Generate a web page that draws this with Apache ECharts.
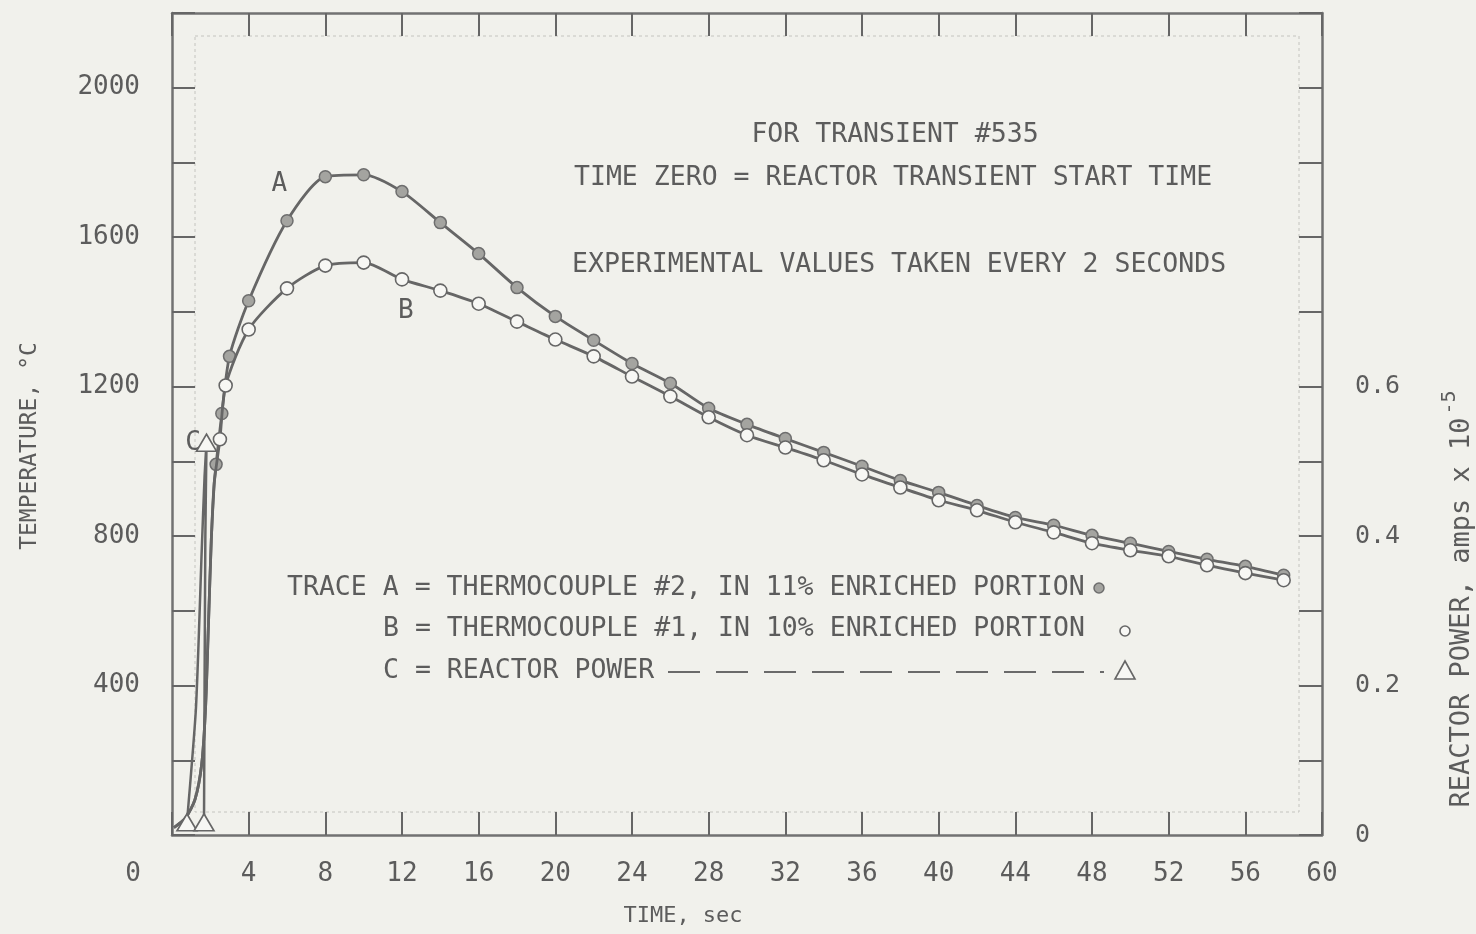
<!DOCTYPE html>
<html>
<head>
<meta charset="utf-8">
<title>Transient #535 temperatures</title>
<script src="https://cdn.jsdelivr.net/npm/echarts@6/dist/echarts.min.js"></script>
<style>
  html, body { margin: 0; padding: 0; background: #f1f1ec; }
  #chart { width: 1476px; height: 934px; }
</style>
</head>
<body>
<div id="chart"></div>
<script>
// Trace A: thermocouple #2 (11% enriched portion), sampled points
const timeA = [2.3, 2.6, 3.0, 4, 6, 8, 10, 12, 14, 16, 18, 20, 22, 24, 26, 28, 30, 32, 34, 36, 38, 40, 42, 44, 46, 48, 50, 52, 54, 56, 58];
const tempA = [992, 1128, 1281, 1430, 1644, 1762, 1767, 1722, 1639, 1556, 1465, 1388, 1324, 1262, 1209, 1142, 1099, 1061, 1024, 987, 949, 917, 882, 850, 829, 802, 781, 759, 738, 719, 695];

// Trace B: thermocouple #1 (10% enriched portion), sampled points
const timeB = [2.5, 2.8, 4, 6, 8, 10, 12, 14, 16, 18, 20, 22, 24, 26, 28, 30, 32, 34, 36, 38, 40, 42, 44, 46, 48, 50, 52, 54, 56, 58];
const tempB = [1059, 1203, 1353, 1463, 1524, 1532, 1487, 1457, 1422, 1374, 1326, 1281, 1227, 1174, 1118, 1070, 1037, 1003, 965, 930, 896, 869, 837, 810, 781, 762, 746, 722, 701, 682];

// Unmarked start-up ramp shared by both thermocouple traces
const rampTime = [0.1, 0.7, 1.2, 1.55, 1.75, 1.9, 2.05, 2.2];
const rampTemp = [20, 45, 95, 190, 340, 560, 790, 940];

// Trace C: reactor power pulse (amps x 10^-5); triangles on the first, peak and last points
const timeC = [0.78, 1.25, 1.55, 1.7, 1.8, 1.74, 1.7, 1.67];
const powerC = [0.017, 0.17, 0.38, 0.48, 0.525, 0.4, 0.2, 0.017];
const markedC = [true, false, false, false, true, false, false, true];

// Axis ticks and labels
const timeTicks = [0, 4, 8, 12, 16, 20, 24, 28, 32, 36, 40, 44, 48, 52, 56, 60];
const tempLabels = [400, 800, 1200, 1600, 2000];
const powerLabels = [0, 0.2, 0.4, 0.6];

const INK = '#5c5c5c';
const LINE = '#666666';
const FONT = "'DejaVu Sans Mono', 'Liberation Mono', monospace";

function rampData() {
  return rampTime.map((t, i) => ({ value: [t, rampTemp[i]], symbol: 'none' }));
}
const dataA = rampData().concat(timeA.map((t, i) => [t, tempA[i]]));
const dataB = rampData().concat(timeB.map((t, i) => [t, tempB[i]]));
const dataC = timeC.map((t, i) => markedC[i] ? [t, powerC[i]] : { value: [t, powerC[i]], symbol: 'none' });

const chart = echarts.init(document.getElementById('chart'), null, { renderer: 'canvas' });

const tickStyle = { show: true, inside: true, length: 23, lineStyle: { color: LINE, width: 2 } };
const axisLine = { show: true, onZero: false, lineStyle: { color: '#727272', width: 2.5 } };

const option = {
  backgroundColor: '#f1f1ec',
  animation: false,
  grid: { left: 172, right: 154, top: 13, bottom: 99, show: false, outerBoundsMode: 'none', containLabel: false },
  xAxis: [{
    type: 'value', min: 0, max: 60, interval: 4, position: 'bottom',
    axisLine: axisLine, axisTick: tickStyle, splitLine: { show: false },
    axisLabel: {
      margin: 26, color: INK, fontFamily: FONT, fontSize: 26,
      formatter: v => timeTicks.includes(v) ? (v === 0 ? '{z|0}' : String(v)) : '',
      rich: { z: { fontFamily: FONT, fontSize: 26, color: INK, padding: [0, 78, 0, 0] } }
    },
    name: 'TIME, sec', nameLocation: 'middle', nameGap: 70,
    nameTextStyle: { color: INK, fontFamily: FONT, fontSize: 22, padding: [0, 128, 0, 0] }
  }, {
    type: 'value', min: 0, max: 60, interval: 4, position: 'top',
    axisLine: axisLine, axisTick: tickStyle, axisLabel: { show: false }, splitLine: { show: false }
  }],
  yAxis: [{
    type: 'value', min: 0, max: 2200, interval: 200, position: 'left',
    axisLine: axisLine, axisTick: tickStyle, splitLine: { show: false },
    axisLabel: {
      margin: 32, color: INK, fontFamily: FONT, fontSize: 26,
      formatter: v => tempLabels.includes(v) ? String(v) : ''
    },
    name: 'TEMPERATURE, °C', nameLocation: 'middle', nameGap: 130, nameRotate: 90,
    nameTextStyle: { color: INK, fontFamily: FONT, fontSize: 23, padding: [0, 44, 0, 0] }
  }, {
    type: 'value', min: 0, max: 1.1, interval: 0.1, position: 'right',
    axisLine: axisLine, axisTick: tickStyle, splitLine: { show: false },
    axisLabel: {
      margin: 33, color: INK, fontFamily: FONT, fontSize: 25,
      formatter: v => {
        const r = Math.round(v * 10) / 10;
        return powerLabels.includes(r) ? (r === 0 ? '0' : r.toFixed(1)) : '';
      }
    },
    name: '{n|REACTOR POWER, amps x 10}{s|-5}', nameLocation: 'middle', nameGap: 118, nameRotate: 90,
    nameTextStyle: {
      color: INK, fontFamily: FONT, fontSize: 27, padding: [0, 350, 0, 0],
      rich: {
        n: { fontFamily: FONT, fontSize: 27, color: INK },
        s: { fontFamily: FONT, fontSize: 20, color: INK, verticalAlign: 'top', padding: [0, 0, 24, 3] }
      }
    }
  }],
  series: [{
    name: 'A', type: 'line', xAxisIndex: 0, yAxisIndex: 0, data: dataA,
    smooth: 0.25,
    symbol: 'circle', symbolSize: 12,
    lineStyle: { color: LINE, width: 2.8 },
    itemStyle: { color: '#a4a4a0', borderColor: '#6e6e6e', borderWidth: 1.5 },
    markPoint: {
      symbol: 'circle', symbolSize: 0,
      label: { show: true, formatter: 'A', color: INK, fontFamily: FONT, fontSize: 26 },
      data: [{ coord: [5.6, 1743] }]
    },
    z: 3
  }, {
    name: 'B', type: 'line', xAxisIndex: 0, yAxisIndex: 0, data: dataB,
    smooth: 0.25,
    symbol: 'circle', symbolSize: 13,
    lineStyle: { color: LINE, width: 2.8 },
    itemStyle: { color: '#f7f7f4', borderColor: '#666', borderWidth: 1.6 },
    markPoint: {
      symbol: 'circle', symbolSize: 0,
      label: { show: true, formatter: 'B', color: INK, fontFamily: FONT, fontSize: 26 },
      data: [{ coord: [12.2, 1401] }]
    },
    z: 4
  }, {
    name: 'C', type: 'line', xAxisIndex: 0, yAxisIndex: 1, data: dataC,
    smooth: 0.2,
    symbol: 'triangle', symbolSize: [20, 17],
    lineStyle: { color: LINE, width: 2.5 },
    itemStyle: { color: '#f7f7f4', borderColor: '#666', borderWidth: 1.6 },
    markPoint: {
      symbol: 'circle', symbolSize: 0,
      label: { show: true, formatter: 'C', color: INK, fontFamily: FONT, fontSize: 26 },
      data: [{ coord: [1.1, 0.524] }]
    },
    z: 5
  }]
};

chart.setOption(option);

// Inner dotted frame where the inward ticks end, plus notes and key
const g = chart.getModel().getComponent('grid', 0).coordinateSystem.getRect();
const inset = 23;
const textStyle = (x, y, text, align) => ({
  type: 'text', x: x, y: y, silent: true,
  style: { text: text, fill: INK, font: "26.5px 'DejaVu Sans Mono', 'Liberation Mono', monospace",
           textAlign: align || 'left', textVerticalAlign: 'middle' }
});

chart.setOption({
  graphic: [
    { type: 'rect', silent: true, z: 0,
      shape: { x: g.x + inset, y: g.y + inset, width: g.width - 2 * inset, height: g.height - 2 * inset },
      style: { fill: null, stroke: '#c4c4bf', lineWidth: 1, lineDash: [3, 3] } },
    textStyle(895, 135, 'FOR TRANSIENT #535', 'center'),
    textStyle(574, 178, 'TIME ZERO = REACTOR TRANSIENT START TIME'),
    textStyle(572, 265, 'EXPERIMENTAL VALUES TAKEN EVERY 2 SECONDS'),
    textStyle(287, 588, 'TRACE A = THERMOCOUPLE #2, IN 11% ENRICHED PORTION'),
    textStyle(383, 629, 'B = THERMOCOUPLE #1, IN 10% ENRICHED PORTION'),
    textStyle(383, 671, 'C = REACTOR POWER'),
    { type: 'circle', silent: true, shape: { cx: 1099, cy: 588, r: 5 },
      style: { fill: '#a4a4a0', stroke: '#6e6e6e', lineWidth: 1.5 } },
    { type: 'circle', silent: true, shape: { cx: 1125, cy: 631, r: 5 },
      style: { fill: '#f7f7f4', stroke: '#666', lineWidth: 1.6 } },
    { type: 'line', silent: true, shape: { x1: 668, y1: 672, x2: 1104, y2: 672 },
      style: { stroke: '#6a6a6a', lineWidth: 2, lineDash: [32, 16] } },
    { type: 'polygon', silent: true, shape: { points: [[1125, 661], [1115, 679], [1135, 679]] },
      style: { fill: '#f7f7f4', stroke: '#666', lineWidth: 1.6 } }
  ]
});
</script>
</body>
</html>
